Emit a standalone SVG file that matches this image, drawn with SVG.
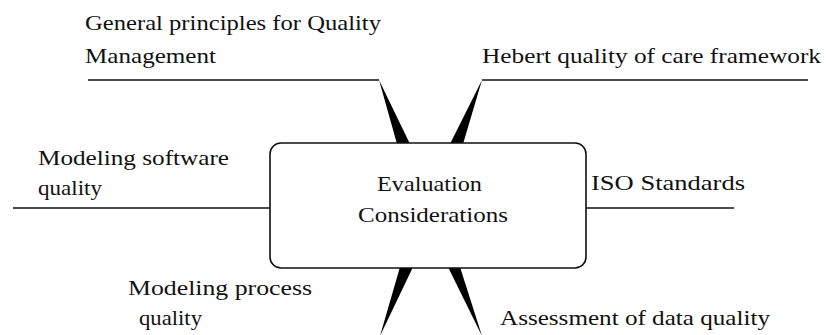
<svg xmlns="http://www.w3.org/2000/svg" width="827" height="335" viewBox="0 0 827 335" font-family="'Liberation Serif', 'DejaVu Serif', serif" font-size="22">
<style>
text { fill: #111; }
.ln { stroke: #111; stroke-width: 1.6; fill: none; }
.wd { fill: #000; stroke: none; }
.box { fill: #fff; stroke: #111; stroke-width: 1.6; }
</style>
<rect width="827" height="335" fill="#fff"/>
<g id="connectors">
  <line class="ln" x1="88" y1="80" x2="379" y2="80"/>
  <polygon class="wd" points="379,80 397,144 410,144"/>
  <line class="ln" x1="482" y1="80" x2="808" y2="80"/>
  <polygon class="wd" points="482,80 450,144 463,144"/>
  <line class="ln" x1="13" y1="208" x2="270" y2="208"/>
  <line class="ln" x1="586" y1="208" x2="734" y2="208"/>
  <polygon class="wd" points="400,267 413,267 380,336"/>
  <polygon class="wd" points="448,267 460,267 482,336"/>
</g>
<g id="center">
  <rect class="box" x="270" y="143" width="316" height="125" rx="11" ry="11"/>
  <text x="377" y="191" textLength="105" lengthAdjust="spacingAndGlyphs">Evaluation</text>
  <text x="358" y="222" textLength="150" lengthAdjust="spacingAndGlyphs">Considerations</text>
</g>
<g id="general-principles">
  <text x="85" y="30" textLength="296" lengthAdjust="spacingAndGlyphs">General principles for Quality</text>
  <text x="85" y="63" textLength="131" lengthAdjust="spacingAndGlyphs">Management</text>
</g>
<g id="hebert">
  <text x="482" y="63" textLength="339" lengthAdjust="spacingAndGlyphs">Hebert quality of care framework</text>
</g>
<g id="modeling-software">
  <text x="38" y="165" textLength="191" lengthAdjust="spacingAndGlyphs">Modeling software</text>
  <text x="38" y="195" textLength="64" lengthAdjust="spacingAndGlyphs">quality</text>
</g>
<g id="iso">
  <text x="591" y="190" textLength="154" lengthAdjust="spacingAndGlyphs">ISO Standards</text>
</g>
<g id="modeling-process">
  <text x="128" y="295" textLength="184" lengthAdjust="spacingAndGlyphs">Modeling process</text>
  <text x="139" y="325" textLength="63" lengthAdjust="spacingAndGlyphs">quality</text>
</g>
<g id="assessment">
  <text x="500" y="325" textLength="270" lengthAdjust="spacingAndGlyphs">Assessment of data quality</text>
</g>
</svg>
